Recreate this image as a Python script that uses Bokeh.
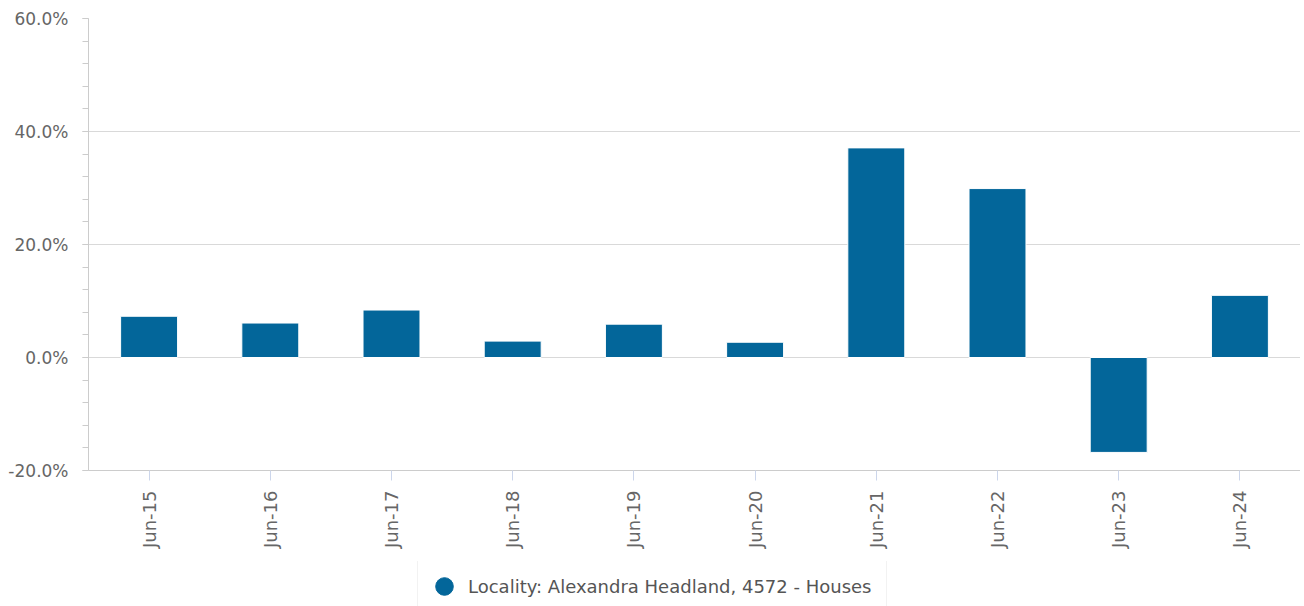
import math
from bokeh.plotting import figure
from bokeh.layouts import column
from bokeh.models import (FactorRange, Range1d, FixedTicker, PrintfTickFormatter,
                          Legend, LegendItem, ColumnDataSource)
from bokeh.embed import file_html
from bokeh.resources import INLINE

categories = ["Jun-15", "Jun-16", "Jun-17", "Jun-18", "Jun-19",
              "Jun-20", "Jun-21", "Jun-22", "Jun-23", "Jun-24"]
growth_pct = [7.3, 6.1, 8.4, 2.9, 5.9, 2.7, 37.1, 29.9, -16.8, 11.0]
series_name = "Locality: Alexandra Headland, 4572 - Houses"
y_major = [-20, 0, 20, 40, 60]
y_minor = [-20, -16, -12, -8, -4, 0, 4, 8, 12, 16, 20, 24, 28, 32, 36, 40, 44, 48, 52, 56, 60]

BAR = "#03669a"
FONT = "DejaVu Sans"

src = ColumnDataSource(dict(x=categories, top=growth_pct))

p = figure(width=1300, height=561, output_backend="svg", toolbar_location=None,
           x_range=FactorRange(*categories, range_padding=0),
           y_range=Range1d(-20, 60),
           min_border_left=88, min_border_top=18, min_border_right=0,
           min_border_bottom=91)
p.outline_line_color = None
p.background_fill_color = "white"
p.border_fill_color = "white"

r = p.vbar(x="x", top="top", bottom=0, width=0.47, source=src,
           fill_color=BAR, line_color="white", line_width=1)

# y axis
p.yaxis.ticker = FixedTicker(ticks=y_major, minor_ticks=y_minor)
p.yaxis.formatter = PrintfTickFormatter(format="%.1f%%")
p.yaxis.axis_line_color = "#cccccc"
p.yaxis.major_tick_line_color = "#cccccc"
p.yaxis.minor_tick_line_color = "#cccccc"
p.yaxis.major_tick_out = 6
p.yaxis.major_tick_in = 0
p.yaxis.minor_tick_out = 6
p.yaxis.minor_tick_in = 0
p.yaxis.major_label_standoff = 14
p.yaxis.major_label_text_font = FONT
p.yaxis.major_label_text_font_size = "17px"
p.yaxis.major_label_text_color = "#666666"

# x axis
p.xaxis.axis_line_color = "#cccccc"
p.xaxis.major_tick_line_color = "#ccd6eb"
p.xaxis.major_tick_out = 10
p.xaxis.major_tick_in = 0
p.xaxis.minor_tick_line_color = None
p.xaxis.major_label_orientation = math.pi / 2
p.xaxis.major_label_standoff = 10
p.xaxis.major_label_text_font = FONT
p.xaxis.major_label_text_font_size = "18px"
p.xaxis.major_label_text_color = "#666666"

p.xgrid.grid_line_color = None
p.ygrid.grid_line_color = "#d9d9d9"
p.ygrid.ticker = FixedTicker(ticks=y_major)

# legend strip (second figure)
lg = figure(width=1300, height=45, output_backend="svg", toolbar_location=None,
            x_axis_type=None, y_axis_type=None,
            x_range=Range1d(0, 1), y_range=Range1d(0, 1),
            min_border=0, min_border_left=0, min_border_right=0,
            min_border_top=0, min_border_bottom=0)
lg.outline_line_color = None
lg.xgrid.grid_line_color = None
lg.ygrid.grid_line_color = None
# a legend-only marker placed outside the visible range
key = lg.scatter(x=[5], y=[5], marker="circle", fill_color=BAR, line_color=BAR)
legend = Legend(items=[LegendItem(label=series_name, renderers=[key], index=0)],
                location=(329, -7), orientation="horizontal",
                glyph_width=44, glyph_height=44, label_standoff=2,
                label_width=414,
                padding=4, margin=0,
                label_text_font=FONT, label_text_font_size="18px",
                label_text_color="#555555",
                border_line_color="#e6e6e6", border_line_width=1,
                background_fill_color="white", background_fill_alpha=1)
lg.add_layout(legend, "center")

layout = column(p, lg, spacing=0)
open("out.html", "w").write(file_html(layout, INLINE))
